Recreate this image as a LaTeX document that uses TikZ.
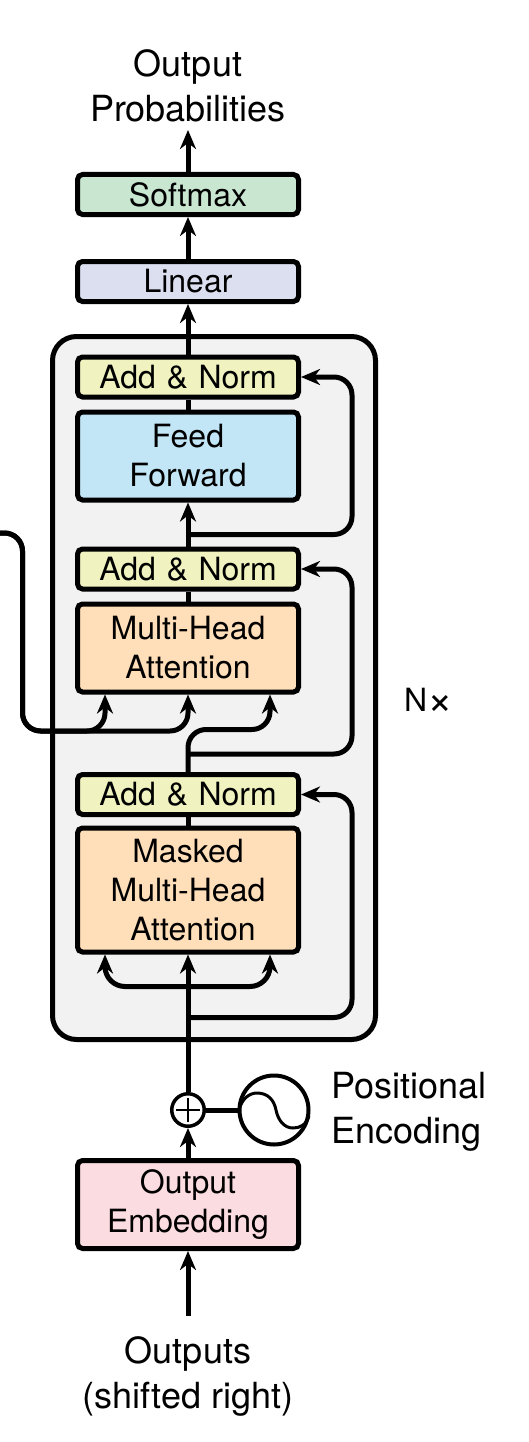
\documentclass[tikz,border=0pt]{standalone}
\usepackage{xcolor}
\usepackage{fontspec}
\setmainfont{TeX Gyre Heros}
\usepackage{tikz}
\usetikzlibrary{positioning,arrows.meta,calc}
\definecolor{softmaxgreen}{RGB}{201,230,209}
\definecolor{linearblue}{RGB}{220,223,240}
\definecolor{normyellow}{RGB}{240,243,191}
\definecolor{feedblue}{RGB}{194,230,246}
\definecolor{attnorange}{RGB}{255,223,186}
\definecolor{embedpink}{RGB}{251,220,224}
\definecolor{stackgray}{RGB}{242,242,242}

\begin{document}
\begin{tikzpicture}[
    x=1pt, y=-1pt,
    box/.style={draw, line width=5pt, rounded corners=5pt, text width=205pt, align=center,
                minimum width=221pt, inner sep=0pt, font=\fontsize{32}{39}\selectfont},
    smallbox/.style={box, minimum height=40pt},
    bigbox/.style={box, minimum height=88pt},
    lbl/.style={align=center, inner sep=0pt, font=\fontsize{36}{45}\selectfont},
    arr/.style={-{Stealth[length=19pt,width=16pt,inset=6pt]}, line width=5pt},
    wire/.style={line width=5pt},
    curved/.style={arr, rounded corners=18pt},
  ]
    \useasboundingbox (0,0) rectangle (528,1442);

    \node[draw, line width=5pt, rounded corners=24pt, fill=stackgray,
          minimum width=323pt, minimum height=703pt] (stack) at (214,688) {};

    \node[smallbox, fill=softmaxgreen] (softmax) at (188,194.5) {Softmax};
    \node[smallbox, fill=linearblue, below=42pt of softmax] (linear) {Linear};
    \node[smallbox, fill=normyellow, below=50.5pt of linear] (normA) {Add \& Norm};
    \node[bigbox, fill=feedblue, below=10pt of normA] (feed) {Feed\\Forward};
    \node[smallbox, fill=normyellow, below=44pt of feed] (normB) {Add \& Norm};
    \node[bigbox, fill=attnorange, below=10pt of normB] (attn) {Multi-Head\\Attention};
    \node[smallbox, fill=normyellow, below=77.5pt of attn] (normC) {Add \& Norm};
    \node[box, minimum height=124pt, fill=attnorange, below=8.5pt of normC] (masked)
        {Masked\\Multi-Head\\\hspace*{10pt}Attention};
    \node[bigbox, fill=embedpink, below=203.5pt of masked] (embed) {Output\\Embedding};

    \node[lbl, above=50pt of softmax] (probs) {Output\\Probabilities};
    \node[lbl, below=85pt of embed] (outputs) {Outputs\\(shifted right)};

    \node[draw, circle, line width=3.5pt, fill=white, minimum size=32.5pt, inner sep=0pt,
          above=30pt of embed] (plus) {};
    \node[draw, circle, line width=4pt, minimum size=69pt, inner sep=0pt,
          right=31.5pt of plus] (sine) {};
    \node[lbl, align=left, right=21pt of sine, yshift=-2pt] (posenc) {Positional\\Encoding};
    \node[font=\fontsize{32}{39}\selectfont, inner sep=0pt, right=26pt of stack, yshift=-13pt] (nx)
        {N\raisebox{-3pt}{\fontsize{44}{44}\selectfont ×}};

    % main line
    \draw[arr, shorten <=20pt] (outputs.north) -- (embed.south);
    \draw[arr] (embed.north) -- (plus.south);
    \draw[arr] (plus.north) -- (masked.south);
    \draw[wire] (plus.east) -- (sine.west);
    \draw[wire] (masked.north) -- (normC.south);
    \draw[arr] (normB.north) -- (feed.south);
    \draw[wire] (attn.north) -- (normB.south);
    \draw[wire] (feed.north) -- (normA.south);
    \draw[arr] (normA.north) -- (linear.south);
    \draw[arr] (linear.north) -- (softmax.south);
    \draw[arr, shorten >=8pt] (softmax.north) -- (probs.south);

    % plus sign and wave
    \draw[line width=2.5pt] ($(plus.center)+(-12,0)$) -- ($(plus.center)+(12,0)$);
    \draw[line width=2.5pt] ($(plus.center)+(0,-12)$) -- ($(plus.center)+(0,12)$);
    \begin{scope}[shift={(sine.center)}]
      \draw[line width=3pt] (-35,0) .. controls (-32,-12) and (-24,-17) .. (-17,-17)
          .. controls (-6,-17) and (0,-10) .. (2,0) .. controls (4,10) and (10,18) .. (19,18)
          .. controls (26,18) and (32,15) .. (35,6);
    \end{scope}

    % residual links
    \coordinate (tapA) at ($(normB.north)+(0,-12)$);
    \coordinate (tapB) at ($(normC.north)+(0,-18)$);
    \coordinate (tapC) at ($(masked.south)+(0,63)$);
    \draw[curved] (tapA) -| ($(normA.east)+(51,0)$) -- (normA.east);
    \draw[curved] (tapB) -| ($(normB.east)+(51,0)$) -- (normB.east);
    \draw[curved] (tapC) -| ($(normC.east)+(51,0)$) -- (normC.east);

    % inputs of masked attention
    \coordinate (tapD) at ($(masked.south)+(0,32)$);
    \draw[arr, rounded corners=20pt] (tapD) -| ($(masked.south)+(-83,0)$);
    \draw[arr, rounded corners=20pt] (tapD) -| ($(masked.south)+(82,0)$);

    % inputs of attention
    \coordinate (enc) at (0,533);
    \coordinate (encturn) at (22.5,731);
    \coordinate (attnL) at ($(attn.south)+(-83,0)$);
    \coordinate (attnR) at ($(attn.south)+(82,0)$);
    \draw[curved] (enc) -| (encturn) -| (attn.south);
    \draw[curved] (enc) -| (encturn) -| (attnL);
    \draw[curved] (normC.north) |- ($(attnR)+(0,35)$) -- (attnR);
\end{tikzpicture}
\end{document}
